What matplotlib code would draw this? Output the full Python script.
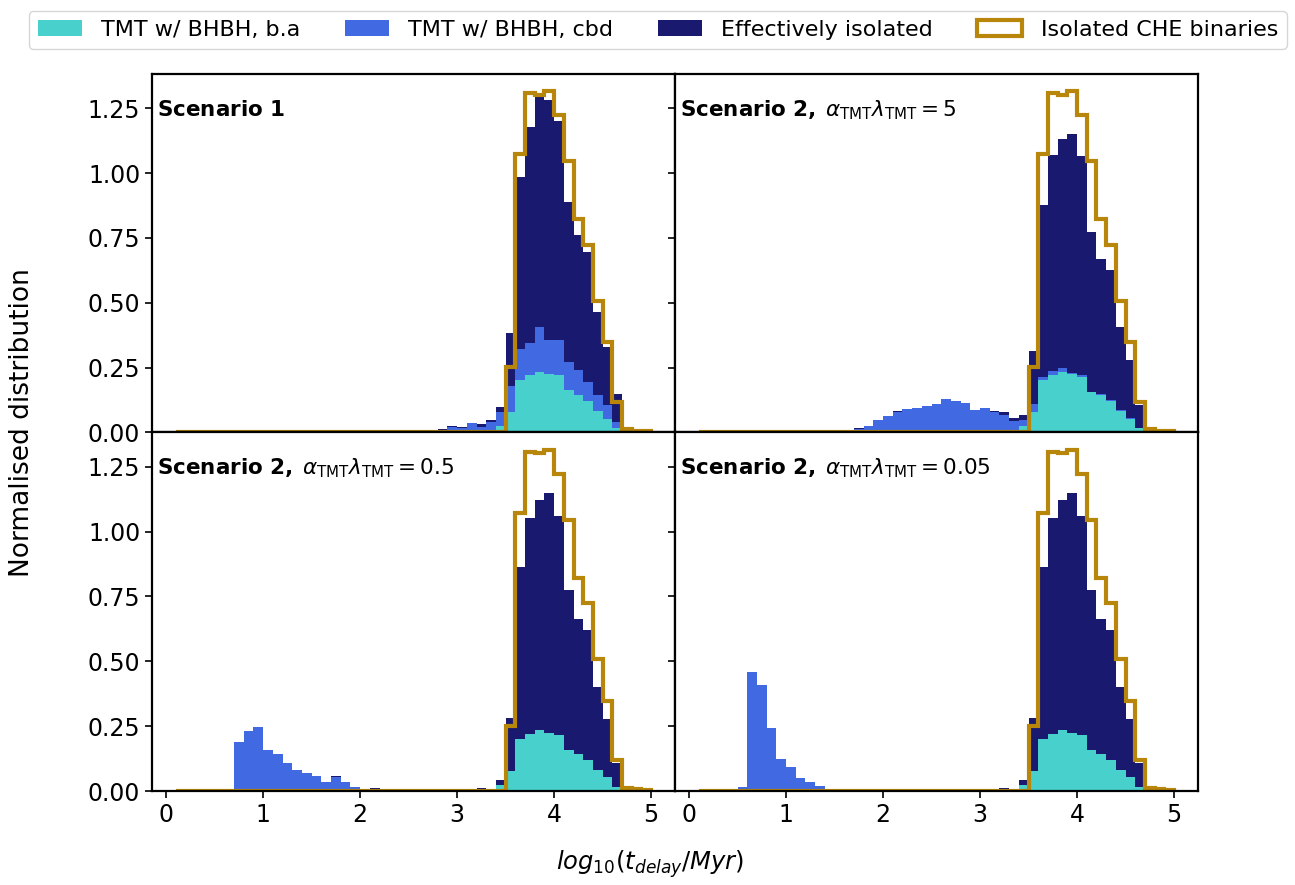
import numpy as np
import matplotlib
matplotlib.use("Agg")
import matplotlib.pyplot as plt

# ---------------- data ----------------
# histogram bin edges in log10(t_delay/Myr): 0.1 ... 5.0, width 0.1
bin_edges = np.round(np.arange(0.1, 5.0001, 0.1), 2)
NB = len(bin_edges) - 1  # 49 bins

def sparse(d):
    """bin index -> value dictionary to full array"""
    a = np.zeros(NB)
    for k, v in d.items():
        a[k] = v
    return a

# Isolated CHE binaries (same in every panel)
iso_che = sparse({34: 0.252, 35: 1.073, 36: 1.307, 37: 1.302, 38: 1.316, 39: 1.223,
                  40: 1.046, 41: 0.822, 42: 0.723, 43: 0.507, 44: 0.347, 45: 0.118,
                  46: 0.013, 47: 0.006, 48: 0.005})

# Scenario 1
s1_ba = sparse({33: 0.026, 34: 0.080, 35: 0.203, 36: 0.222, 37: 0.234, 38: 0.226, 39: 0.220,
                40: 0.162, 41: 0.145, 42: 0.122, 43: 0.083, 44: 0.053, 45: 0.019, 46: 0.003})
s1_cbd = sparse({26: 0.010, 27: 0.010, 28: 0.023, 29: 0.018, 30: 0.035, 31: 0.022, 32: 0.039,
                 33: 0.054, 34: 0.100, 35: 0.119, 36: 0.123, 37: 0.173, 38: 0.131, 39: 0.137,
                 40: 0.110, 41: 0.096, 42: 0.073, 43: 0.062, 44: 0.054, 45: 0.023, 46: 0.002})
s1_iso = sparse({22: 0.010, 27: 0.004, 28: 0.003, 29: 0.003, 30: 0.002, 31: 0.011, 32: 0.010,
                 33: 0.019, 34: 0.203, 35: 0.664, 36: 0.832, 37: 0.887, 38: 0.924, 39: 0.845,
                 40: 0.616, 41: 0.520, 42: 0.501, 43: 0.321, 44: 0.224, 45: 0.107, 46: 0.018,
                 47: 0.005})

# Scenario 2, alpha*lambda = 5
s2a_ba = sparse({33: 0.024, 34: 0.078, 35: 0.202, 36: 0.221, 37: 0.232, 38: 0.225, 39: 0.213,
                 40: 0.155, 41: 0.144, 42: 0.121, 43: 0.082, 44: 0.051, 45: 0.017, 46: 0.003})
s2a_cbd = sparse({16: 0.014, 17: 0.026, 18: 0.049, 19: 0.064, 20: 0.080, 21: 0.091, 22: 0.093,
                  23: 0.103, 24: 0.108, 25: 0.130, 26: 0.122, 27: 0.114, 28: 0.085, 29: 0.095,
                  30: 0.080, 31: 0.068, 32: 0.045, 33: 0.023, 34: 0.031, 35: 0.011, 36: 0.015,
                  37: 0.016, 38: 0.004, 39: 0.008, 40: 0.003, 41: 0.004, 42: 0.004, 43: 0.004,
                  44: 0.004, 45: 0.002, 46: 0.001})
s2a_iso = sparse({16: 0.004, 20: 0.003, 22: 0.002, 28: 0.002, 30: 0.003, 31: 0.012, 32: 0.012,
                  33: 0.021, 34: 0.204, 35: 0.663, 36: 0.833, 37: 0.885, 38: 0.923, 39: 0.843,
                  40: 0.613, 41: 0.520, 42: 0.500, 43: 0.321, 44: 0.225, 45: 0.086, 46: 0.011,
                  47: 0.004})

# Scenario 2, alpha*lambda = 0.5
s2b_ba = sparse({33: 0.022, 34: 0.078, 35: 0.202, 36: 0.221, 37: 0.236, 38: 0.225, 39: 0.217,
                 40: 0.159, 41: 0.144, 42: 0.121, 43: 0.082, 44: 0.055, 45: 0.017, 46: 0.003})
s2b_cbd = sparse({6: 0.187, 7: 0.230, 8: 0.245, 9: 0.157, 10: 0.141, 11: 0.107, 12: 0.080,
                  13: 0.068, 14: 0.056, 15: 0.033, 16: 0.053, 17: 0.033, 18: 0.014, 19: 0.009,
                  20: 0.006})
s2b_iso = sparse({16: 0.003, 20: 0.004, 31: 0.010, 32: 0.006, 33: 0.022, 34: 0.204, 35: 0.662,
                  36: 0.832, 37: 0.886, 38: 0.924, 39: 0.843, 40: 0.616, 41: 0.520, 42: 0.500,
                  43: 0.320, 44: 0.224, 45: 0.092, 46: 0.009, 47: 0.004})

# Scenario 2, alpha*lambda = 0.05
s2c_ba = sparse({33: 0.022, 34: 0.078, 35: 0.202, 36: 0.221, 37: 0.236, 38: 0.225, 39: 0.217,
                 40: 0.159, 41: 0.144, 42: 0.121, 43: 0.082, 44: 0.055, 45: 0.017, 46: 0.003})
s2c_cbd = sparse({4: 0.017, 5: 0.460, 6: 0.410, 7: 0.244, 8: 0.125, 9: 0.094, 10: 0.051,
                  11: 0.036, 12: 0.021})
s2c_iso = sparse({31: 0.010, 32: 0.006, 33: 0.022, 34: 0.204, 35: 0.662, 36: 0.832, 37: 0.886,
                  38: 0.924, 39: 0.843, 40: 0.616, 41: 0.520, 42: 0.500, 43: 0.320, 44: 0.224,
                  45: 0.092, 46: 0.009, 47: 0.004})

panel_titles = [r"$\mathbf{Scenario\ 1}$",
                r"$\mathbf{Scenario\ 2,}\;\alpha_{\rm TMT}\lambda_{\rm TMT} = 5$",
                r"$\mathbf{Scenario\ 2,}\;\alpha_{\rm TMT}\lambda_{\rm TMT} = 0.5$",
                r"$\mathbf{Scenario\ 2,}\;\alpha_{\rm TMT}\lambda_{\rm TMT} = 0.05$"]
panel_data = [(s1_ba, s1_cbd, s1_iso), (s2a_ba, s2a_cbd, s2a_iso),
              (s2b_ba, s2b_cbd, s2b_iso), (s2c_ba, s2c_cbd, s2c_iso)]
series_labels = ["TMT w/ BHBH, b.a", "TMT w/ BHBH, cbd", "Effectively isolated"]
che_label = "Isolated CHE binaries"
series_colors = ["mediumturquoise", "royalblue", "midnightblue"]
che_color = "darkgoldenrod"
yticks = [0.0, 0.25, 0.5, 0.75, 1.0, 1.25]
xticks = [0, 1, 2, 3, 4, 5]

# ---------------- plot ----------------
fig, axes = plt.subplots(2, 2, figsize=(12.95, 8.85), dpi=100, sharex=True, sharey=True)
fig.subplots_adjust(left=0.1174, right=0.925, top=0.9164, bottom=0.1062, hspace=0, wspace=0)

centers = 0.5 * (bin_edges[:-1] + bin_edges[1:])
handles = None
for ax, title, (ba, cbd, iso) in zip(axes.flat, panel_titles, panel_data):
    _, _, bars = ax.hist([centers, centers, centers], bins=bin_edges,
                         weights=[ba, cbd, iso], stacked=True,
                         color=series_colors, label=series_labels)
    _, _, step = ax.hist(centers, bins=bin_edges, weights=iso_che, histtype="step",
                         color=che_color, lw=3, label=che_label)
    ax.text(0.01, 0.9, title, transform=ax.transAxes, fontsize=15.5, va="center", ha="left")
    for s in ax.spines.values():
        s.set_linewidth(1.6)
    ax.tick_params(labelsize=17, width=1.2, length=5)
    if handles is None:
        handles = [bars[0][0], bars[1][0], bars[2][0], step[0]]

axes[0, 0].set_yticks(yticks)
axes[0, 0].set_xticks(xticks)

fig.legend(handles, series_labels + [che_label], loc="upper center",
           bbox_to_anchor=(0.508, 1.0), ncol=4, fontsize=16, columnspacing=2.0,
           handletextpad=0.85, handlelength=2.0)

fig.text(0.017, 0.522, "Normalised distribution", rotation=90, fontsize=19,
         va="center", ha="center")
fig.text(0.502, 0.024, r"$log_{10}(t_{delay}/Myr)$", fontsize=17.5, va="center", ha="center")

fig.savefig("out.png", dpi=100)
